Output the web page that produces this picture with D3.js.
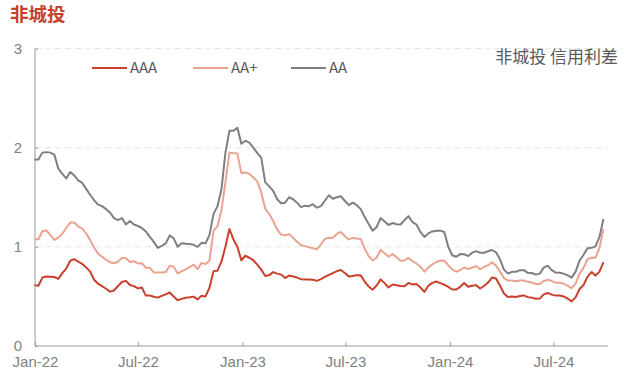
<!DOCTYPE html>
<meta charset="utf-8">
<style>
  html, body {
    margin: 0;
    padding: 0;
    background: #fff;
  }
  svg {
    display: block;
    font-family: "Noto Sans CJK SC", "Noto Sans", sans-serif;
  }
  .grid line {
    stroke: #e6e6e6;
    stroke-dasharray: 6,4;
  }
  .axis path, .axis line {
    stroke: #9a9a9a;
  }
  .axis text {
    fill: #808080;
    font-size: 15px;
  }
  .series {
    fill: none;
    stroke-width: 2;
    stroke-linejoin: round;
  }
</style>
<div id="chart"></div>

<script src="https://cdnjs.cloudflare.com/ajax/libs/d3/7.8.5/d3.min.js"></script>
<script>
// weekly observations, first one on 2021-12-31
var firstDate = "2021-12-31";

var aaa = [0.614,0.607,0.69,0.70,0.698,0.696,0.677,0.735,0.78,0.86,
  0.876,0.85,0.827,0.793,0.75,0.668,0.628,0.603,0.577,0.548,
  0.56,0.605,0.646,0.657,0.615,0.604,0.581,0.59,0.508,0.51,
  0.497,0.488,0.505,0.52,0.54,0.50,0.462,0.475,0.487,0.492,
  0.498,0.47,0.506,0.50,0.59,0.755,0.76,0.85,1.0,1.18,
  1.075,1.0,0.865,0.91,0.89,0.865,0.82,0.77,0.705,0.715,
  0.745,0.73,0.72,0.685,0.71,0.70,0.69,0.674,0.67,0.67,
  0.668,0.657,0.675,0.697,0.717,0.734,0.755,0.766,0.736,0.70,
  0.705,0.715,0.712,0.65,0.60,0.568,0.61,0.672,0.634,0.59,
  0.621,0.613,0.605,0.603,0.636,0.62,0.625,0.59,0.545,0.607,
  0.637,0.65,0.634,0.618,0.596,0.57,0.57,0.597,0.635,0.597,
  0.607,0.614,0.58,0.605,0.64,0.69,0.68,0.61,0.53,0.495,
  0.498,0.494,0.505,0.51,0.492,0.488,0.476,0.478,0.52,0.535,
  0.518,0.508,0.509,0.50,0.477,0.45,0.49,0.575,0.615,0.70,
  0.745,0.71,0.75,0.845];

var aaPlus = [1.076,1.076,1.16,1.165,1.12,1.07,1.093,1.132,1.19,1.245,
  1.245,1.205,1.183,1.135,1.07,0.99,0.93,0.90,0.87,0.845,
  0.835,0.85,0.89,0.885,0.848,0.855,0.833,0.835,0.789,0.789,
  0.742,0.742,0.742,0.745,0.81,0.80,0.732,0.753,0.772,0.795,
  0.82,0.775,0.838,0.826,0.86,1.16,1.21,1.37,1.65,1.95,
  1.945,1.94,1.745,1.75,1.736,1.70,1.66,1.55,1.385,1.33,
  1.26,1.175,1.123,1.115,1.13,1.092,1.052,1.016,1.007,0.995,
  0.985,0.975,1.025,1.08,1.092,1.09,1.13,1.15,1.11,1.075,
  1.09,1.085,1.08,0.98,0.905,0.863,0.89,0.97,0.935,0.90,
  0.927,0.896,0.86,0.862,0.888,0.856,0.832,0.80,0.75,0.793,
  0.824,0.847,0.861,0.86,0.815,0.772,0.749,0.765,0.792,0.776,
  0.789,0.806,0.774,0.798,0.814,0.845,0.81,0.75,0.685,0.66,
  0.661,0.653,0.66,0.66,0.647,0.64,0.625,0.625,0.655,0.668,
  0.655,0.638,0.637,0.63,0.607,0.583,0.63,0.73,0.79,0.875,
  0.892,0.89,0.99,1.18];

var aa = [1.88,1.88,1.95,1.955,1.95,1.93,1.79,1.735,1.69,1.755,
  1.72,1.67,1.645,1.585,1.525,1.47,1.425,1.41,1.38,1.345,
  1.29,1.27,1.29,1.225,1.26,1.225,1.21,1.19,1.155,1.10,
  1.05,0.99,1.01,1.035,1.115,1.085,1.00,1.035,1.03,1.028,
  1.02,1.00,1.04,1.035,1.12,1.33,1.41,1.58,1.95,2.17,
  2.17,2.20,2.04,2.07,2.05,2.00,1.945,1.90,1.65,1.61,
  1.565,1.48,1.44,1.445,1.50,1.48,1.445,1.40,1.415,1.41,
  1.43,1.395,1.41,1.465,1.52,1.485,1.50,1.51,1.465,1.42,
  1.445,1.42,1.38,1.30,1.23,1.163,1.20,1.29,1.255,1.22,
  1.24,1.228,1.225,1.27,1.31,1.25,1.225,1.15,1.10,1.135,
  1.155,1.163,1.163,1.15,1.00,0.915,0.90,0.927,0.925,0.907,
  0.94,0.957,0.94,0.94,0.955,0.968,0.945,0.875,0.77,0.73,
  0.748,0.748,0.765,0.765,0.738,0.736,0.72,0.73,0.79,0.81,
  0.765,0.74,0.738,0.73,0.712,0.69,0.75,0.86,0.92,0.985,
  0.99,1.005,1.10,1.28];

var seriesNames = ["AAA", "AA+", "AA"];
var seriesColors = ["#c9402b", "#eba391", "#7f7f7f"];
var yTicks = [0, 1, 2, 3];
var xTicks = ["2022-01-01", "2022-07-01", "2023-01-01", "2023-07-01", "2024-01-01", "2024-07-01"];

var width = 624, height = 385;
var margin = {top: 48.5, right: 16, bottom: 39, left: 35};

var parse = d3.timeParse("%Y-%m-%d");
var start = parse(firstDate);
var dates = aaa.map(function(_, i) { return d3.timeDay.offset(start, 7 * i); });

var svg = d3.select("#chart").append("svg")
  .attr("width", width)
  .attr("height", height);

var x = d3.scaleTime()
  .domain([parse("2022-01-01"), parse("2024-10-05")])
  .range([margin.left, width - margin.right]);

var y = d3.scaleLinear()
  .domain([0, 3])
  .range([height - margin.bottom, margin.top]);

// dashed gridlines
svg.append("g")
  .attr("class", "grid")
  .selectAll("line")
  .data(yTicks.filter(function(d) { return d > 0; }))
  .enter().append("line")
    .attr("x1", x.range()[0])
    .attr("x2", x.range()[1])
    .attr("y1", function(d) { return y(d); })
    .attr("y2", function(d) { return y(d); });

var yAxis = svg.append("g")
  .attr("class", "axis")
  .attr("transform", "translate(" + margin.left + ",0)")
  .call(d3.axisLeft(y).tickValues(yTicks).tickSize(-3).tickPadding(13).tickFormat(d3.format("d")));
yAxis.selectAll(".tick text").attr("dy", "0.3em");

var xAxis = svg.append("g")
  .attr("class", "axis")
  .attr("transform", "translate(0," + y(0) + ")")
  .call(d3.axisBottom(x)
    .tickValues(xTicks.map(parse))
    .tickSize(-4)
    .tickPadding(10)
    .tickFormat(d3.timeFormat("%b-%y")));
xAxis.select(".domain").attr("d", "M" + x.range()[0] + ",0H" + x.range()[1]);
yAxis.select(".domain").attr("d", "M0," + y(0) + "V" + y(3));

var line = d3.line()
  .x(function(d, i) { return x(dates[i]); })
  .y(function(d) { return y(d); });

[aa, aaPlus, aaa].forEach(function(vals, k) {
  var idx = 2 - k;
  svg.append("path")
    .attr("class", "series")
    .attr("stroke", seriesColors[idx])
    .attr("d", line(vals));
});

// legend
var legendX = [92, 193, 291];
var legend = svg.append("g").selectAll("g")
  .data(seriesNames)
  .enter().append("g")
    .attr("transform", function(d, i) { return "translate(" + legendX[i] + ",68)"; });
legend.append("line")
  .attr("x1", 0).attr("x2", 35)
  .attr("stroke", function(d, i) { return seriesColors[i]; })
  .attr("stroke-width", 2);
legend.append("text")
  .attr("x", 38)
  .attr("dy", "0.35em")
  .attr("fill", "#595959")
  .style("font-size", "15px")
  .text(function(d) { return d; });

// title and note
svg.append("text")
  .attr("x", 10)
  .attr("y", 21)
  .attr("fill", "#c9402b")
  .style("font-size", "18.5px")
  .style("font-weight", "bold")
  .text("非城投");

svg.append("text")
  .attr("x", 618)
  .attr("y", 63)
  .attr("text-anchor", "end")
  .attr("fill", "#595959")
  .style("font-size", "17px")
  .text("非城投 信用利差");
</script>
